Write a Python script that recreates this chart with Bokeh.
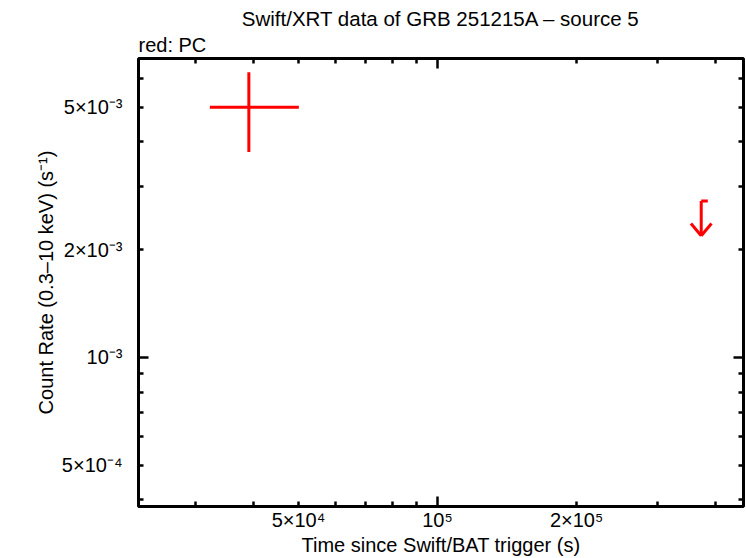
import numpy as np
from bokeh.plotting import figure
from bokeh.models import LogAxis, FixedTicker, Range1d, Title
from bokeh.embed import file_html
from bokeh.resources import INLINE

# ---- data ----
det_time = [3.905e4]
det_time_lo = [3.215e4]
det_time_hi = [5.01e4]
det_rate = [5.0e-3]
det_rate_lo = [3.753e-3]
det_rate_hi = [6.268e-3]

ul_time = [3.722e5]
ul_time_hi = [3.846e5]
ul_rate = [2.736e-3]

x_label_ticks = [5e4, 1e5, 2e5]
x_label_text = ["5×10⁴", "10⁵", "2×10⁵"]
x_major_ticks = [1e5]
x_minor_ticks = [3e4, 4e4, 5e4, 6e4, 7e4, 8e4, 9e4, 2e5, 3e5, 4e5]

y_label_ticks = [5e-4, 1e-3, 2e-3, 5e-3]
y_label_text = ["5×10⁻⁴", "10⁻³", "2×10⁻³", "5×10⁻³"]
y_major_ticks = [1e-3]
y_minor_ticks = [4e-4, 5e-4, 6e-4, 7e-4, 8e-4, 9e-4, 2e-3, 3e-3, 4e-3, 5e-3, 6e-3]

x_lim = (2.253e4, 4.595e5)
y_lim = (3.833e-4, 6.845e-3)

FONT = "Liberation Sans"
FS = "20px"
RED = "#ff0000"

p = figure(width=746, height=558, x_axis_type="log", y_axis_type="log",
           x_range=Range1d(*x_lim), y_range=Range1d(*y_lim),
           output_backend="svg", toolbar_location=None,
           min_border_left=138, min_border_right=3,
           min_border_top=58, min_border_bottom=51)
p.grid.visible = False
p.title.visible = False
p.outline_line_color = "black"
p.outline_line_width = 3
p.background_fill_color = "white"
p.border_fill_color = "white"

# labelled axes (no ticks drawn)
xa = p.xaxis[0]
xa.ticker = FixedTicker(ticks=x_label_ticks, minor_ticks=[])
xa.major_label_overrides = {t: s for t, s in zip(x_label_ticks, x_label_text)}
ya = p.yaxis[0]
ya.ticker = FixedTicker(ticks=y_label_ticks, minor_ticks=[])
ya.major_label_overrides = {t: s for t, s in zip(y_label_ticks, y_label_text)}
for ax in (xa, ya):
    ax.axis_line_color = None
    ax.major_tick_in = 0
    ax.major_tick_out = 0
    ax.minor_tick_in = 0
    ax.minor_tick_out = 0
    ax.major_label_text_font = FONT
    ax.major_label_text_font_size = FS
    ax.major_label_text_color = "black"
    ax.axis_label_text_font = FONT
    ax.axis_label_text_font_size = FS
    ax.axis_label_text_font_style = "normal"
    ax.axis_label_text_color = "black"
xa.major_label_standoff = 2
ya.major_label_standoff = 16
xa.axis_label = "Time since Swift/BAT trigger (s)"
ya.axis_label = "Count Rate (0.3–10 keV) (s⁻¹)"
xa.axis_label_standoff = 0
ya.axis_label_standoff = 2


def tick_axis(major, minor, loc):
    return LogAxis(ticker=FixedTicker(ticks=major, minor_ticks=minor),
                   fixed_location=loc, axis_line_color=None,
                   major_tick_in=10, major_tick_out=0,
                   minor_tick_in=5, minor_tick_out=0,
                   major_tick_line_width=2.5, minor_tick_line_width=2.5,
                   major_label_text_font_size="0px",
                   major_label_text_alpha=0)


p.add_layout(tick_axis(x_major_ticks, x_minor_ticks, y_lim[0]), "below")
p.add_layout(tick_axis(x_major_ticks, x_minor_ticks, y_lim[1]), "above")
p.add_layout(tick_axis(y_major_ticks, y_minor_ticks, x_lim[0]), "left")
p.add_layout(tick_axis(y_major_ticks, y_minor_ticks, x_lim[1]), "right")

# titles
p.add_layout(Title(text="red: PC", align="left", text_font=FONT,
                   text_font_size=FS, text_font_style="normal",
                   text_color="black", standoff=5), "above")
p.add_layout(Title(text="Swift/XRT data of GRB 251215A – source 5", align="center",
                   text_font=FONT, text_font_size="20.5px", text_font_style="normal",
                   text_color="black", standoff=0), "above")

# detection with error bars
p.segment(x0=det_time_lo, y0=det_rate, x1=det_time_hi, y1=det_rate,
          line_color=RED, line_width=3)
p.segment(x0=det_time, y0=det_rate_lo, x1=det_time, y1=det_rate_hi,
          line_color=RED, line_width=3)

# upper limit
ul_tip = [r * 0.8 for r in ul_rate]
p.segment(x0=ul_time, y0=ul_rate, x1=ul_time_hi, y1=ul_rate,
          line_color=RED, line_width=3)
p.segment(x0=ul_time, y0=ul_rate, x1=ul_time, y1=ul_tip,
          line_color=RED, line_width=3)
for ang in (130, 50):
    p.ray(x=ul_time, y=ul_tip, length=16, length_units="screen",
          angle=ang, angle_units="deg", line_color=RED, line_width=3)

open("out.html", "w").write(file_html(p, INLINE))
